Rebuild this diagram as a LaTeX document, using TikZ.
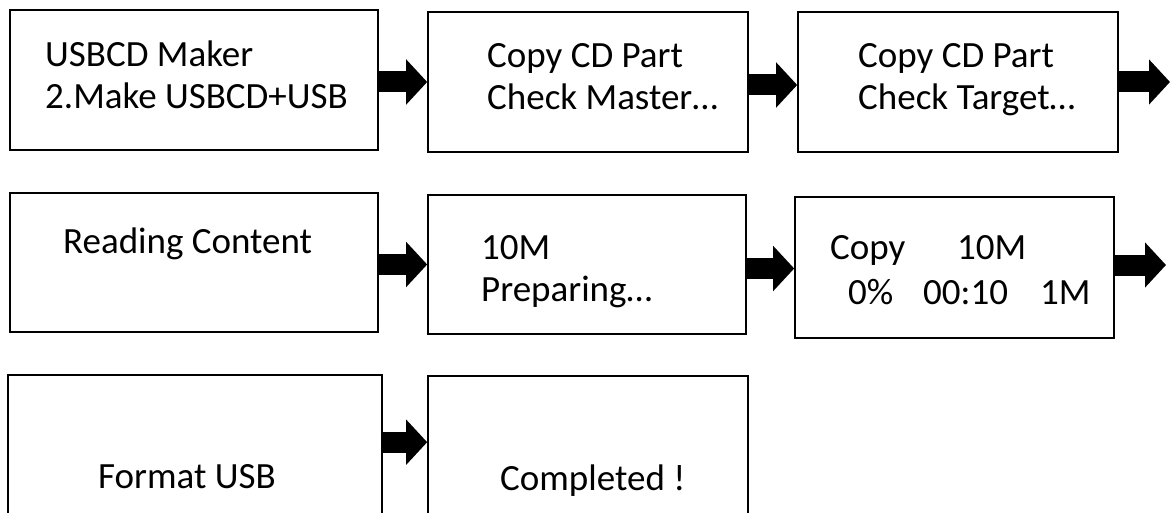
\documentclass[tikz,border=0pt]{standalone}
\usepackage{fontspec}
\setmainfont{Carlito}
\usetikzlibrary{arrows.meta,calc}
\tikzset{
  box/.style={draw=black, line width=1.6pt, fill=white, rectangle, inner sep=0pt},
  txt/.style={inner sep=0pt, anchor=base west, font=\fontsize{37}{44}\selectfont},
  blk/.style={line width=21pt, -{Triangle[length=21pt,width=44pt]}, draw=black},
}
\newcommand{\mkbox}[5]{\node[box, minimum width={#4-#2}, minimum height={#5-#3}] (#1) at ({(#2+#4)/2},{(#3+#5)/2}) {};}
\begin{document}
\begin{tikzpicture}[x=1pt,y=-1pt]
\useasboundingbox (0,0) rectangle (1170,513);
% row 1
\mkbox{A}{10}{10}{378}{150}
\mkbox{B}{428}{12}{748}{152}
\mkbox{C}{798}{12}{1118}{152}
% row 2
\mkbox{D}{10}{193}{378}{332}
\mkbox{E}{428}{195}{746}{334}
\mkbox{F}{795}{197}{1114}{338}
% row 3
\mkbox{G}{8}{375}{382}{545}
\mkbox{H}{428}{376}{748}{545}
% texts
\node[txt] (tA1) at (45,67) {USBCD Maker};
\node[txt] (tA2) at (45,109) {2.Make USBCD+USB};
\node[txt] (tB1) at (487,68) {Copy CD Part};
\node[txt] (tB2) at (487,110) {Check Master…};
\node[txt] (tC1) at (858,68) {Copy CD Part};
\node[txt] (tC2) at (858,110) {Check Target…};
\node[txt] (tD1) at (63,254) {Reading Content};
\node[txt] (tE1) at (481,259) {10M};
\node[txt] (tE2) at (481,301) {Preparing…};
\node[txt] (tF1) at (830,259) {Copy};
\node[txt] (tF2) at (957,259) {10M};
\node[txt] (tF3) at (848,304) {0\%};
\node[txt] (tF4) at (923,304) {00:10};
\node[txt] (tF5) at (1040,304) {1M};
\node[txt] (tG1) at (98,488) {Format USB};
\node[txt] (tH1) at (500,490) {Completed !};
% free ends
\coordinate (endC) at (1170,82);
\coordinate (endF) at (1166,265);
% arrows
\draw[blk] ([yshift=-2]A.east) -- ([yshift=-2]A.east -| B.west);
\draw[blk] ([yshift=-3]B.east) -- ([yshift=-3]B.east -| C.west);
\draw[blk] (C.east |- endC) -- (endC);
\draw[blk] ([yshift=-2]D.east) -- ([yshift=-2]D.east -| E.west);
\draw[blk] ([yshift=-4]E.east) -- ([yshift=-4]E.east -| F.west);
\draw[blk] (F.east |- endF) -- (endF);
\draw[blk] ([yshift=-68]G.north east) -- ([yshift=-68]G.north east -| H.west);
\end{tikzpicture}
\end{document}
